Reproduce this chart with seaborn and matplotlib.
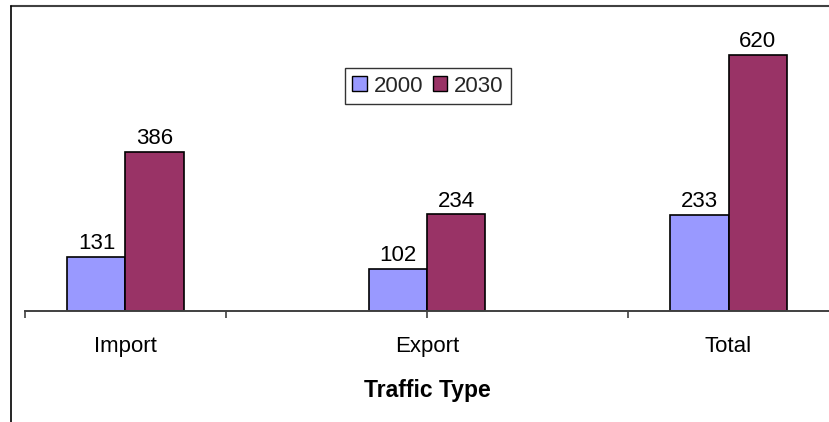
import matplotlib
matplotlib.use("Agg")
import matplotlib.pyplot as plt
from matplotlib.lines import Line2D
from matplotlib.ticker import FixedLocator
import seaborn as sns
import pandas as pd

# Traffic volumes by type
categories = ["Import", "Export", "Total"]
years = ["2000", "2030"]
values_2000 = [131, 102, 233]
values_2030 = [386, 234, 620]

df = pd.DataFrame({
    "Traffic Type": categories * 2,
    "Year": [years[0]] * 3 + [years[1]] * 3,
    "Value": values_2000 + values_2030,
})

sns.set_theme(style="white")
plt.rcParams["font.family"] = ["Liberation Sans", "DejaVu Sans"]

px = 1 / 100
fig = plt.figure(figsize=(829 * px, 422 * px), dpi=100)
ax = fig.add_axes([25 / 829, 1 - 311 / 422, 1 - 25 / 829, (311 - 20) / 422])

palette = {"2000": "#9999FF", "2030": "#993366"}
sns.barplot(data=df, x="Traffic Type", y="Value", hue="Year", order=categories,
            hue_order=years, palette=palette, width=0.385, saturation=1,
            edgecolor="black", linewidth=1.2, ax=ax)

for cont in ax.containers:
    ax.bar_label(cont, padding=2, fontsize=16, color="black")

ax.set_xlim(-1 / 3, 7 / 3)
ax.set_ylim(0, 705)

# Axis styling
for side in ("left", "top", "right"):
    ax.spines[side].set_visible(False)
ax.spines["bottom"].set_color("#404040")
ax.spines["bottom"].set_linewidth(1.4)
ax.set_yticks([])
ax.set_ylabel("")

ax.xaxis.remove_overlapping_locs = False
ax.xaxis.set_major_locator(FixedLocator([-1 / 3, 1 / 3, 1, 5 / 3]))
ax.xaxis.set_major_formatter(plt.NullFormatter())
ax.xaxis.set_minor_locator(FixedLocator([0, 1, 2]))
ax.set_xticklabels(categories, minor=True)
ax.tick_params(axis="x", which="major", direction="out", length=5, width=1.2,
               color="#404040", bottom=True)
ax.tick_params(axis="x", which="minor", length=0, pad=18, labelsize=16,
               labelcolor="black")
ax.set_xlabel("")

fig.text(427 / 829, 1 - 390 / 422, "Traffic Type", ha="center", va="center",
         fontsize=16.5, fontweight="bold", color="black")

# Legend
handles = [plt.Rectangle((0, 0), 1, 1, facecolor=palette[y], edgecolor="black",
                         linewidth=1.0) for y in years]
leg = ax.legend(handles, years, loc="center", bbox_to_anchor=(428 / 829, 1 - 86 / 422),
                bbox_transform=fig.transFigure, ncol=2, fontsize=16,
                frameon=True, fancybox=False, handlelength=0.65, handleheight=0.65,
                handletextpad=0.3, columnspacing=0.45, borderpad=0.35,
                borderaxespad=0)
leg.get_frame().set_edgecolor("black")
leg.get_frame().set_linewidth(1.0)

# Outer frame
fig.add_artist(Line2D([10.5 / 829, 1], [1 - 5.5 / 422, 1 - 5.5 / 422],
                      transform=fig.transFigure, color="#404040", linewidth=1.5))
fig.add_artist(Line2D([10.5 / 829, 10.5 / 829], [1 - 5.5 / 422, 0],
                      transform=fig.transFigure, color="black", linewidth=1.2))

fig.savefig("out.png", dpi=100, facecolor="white")
